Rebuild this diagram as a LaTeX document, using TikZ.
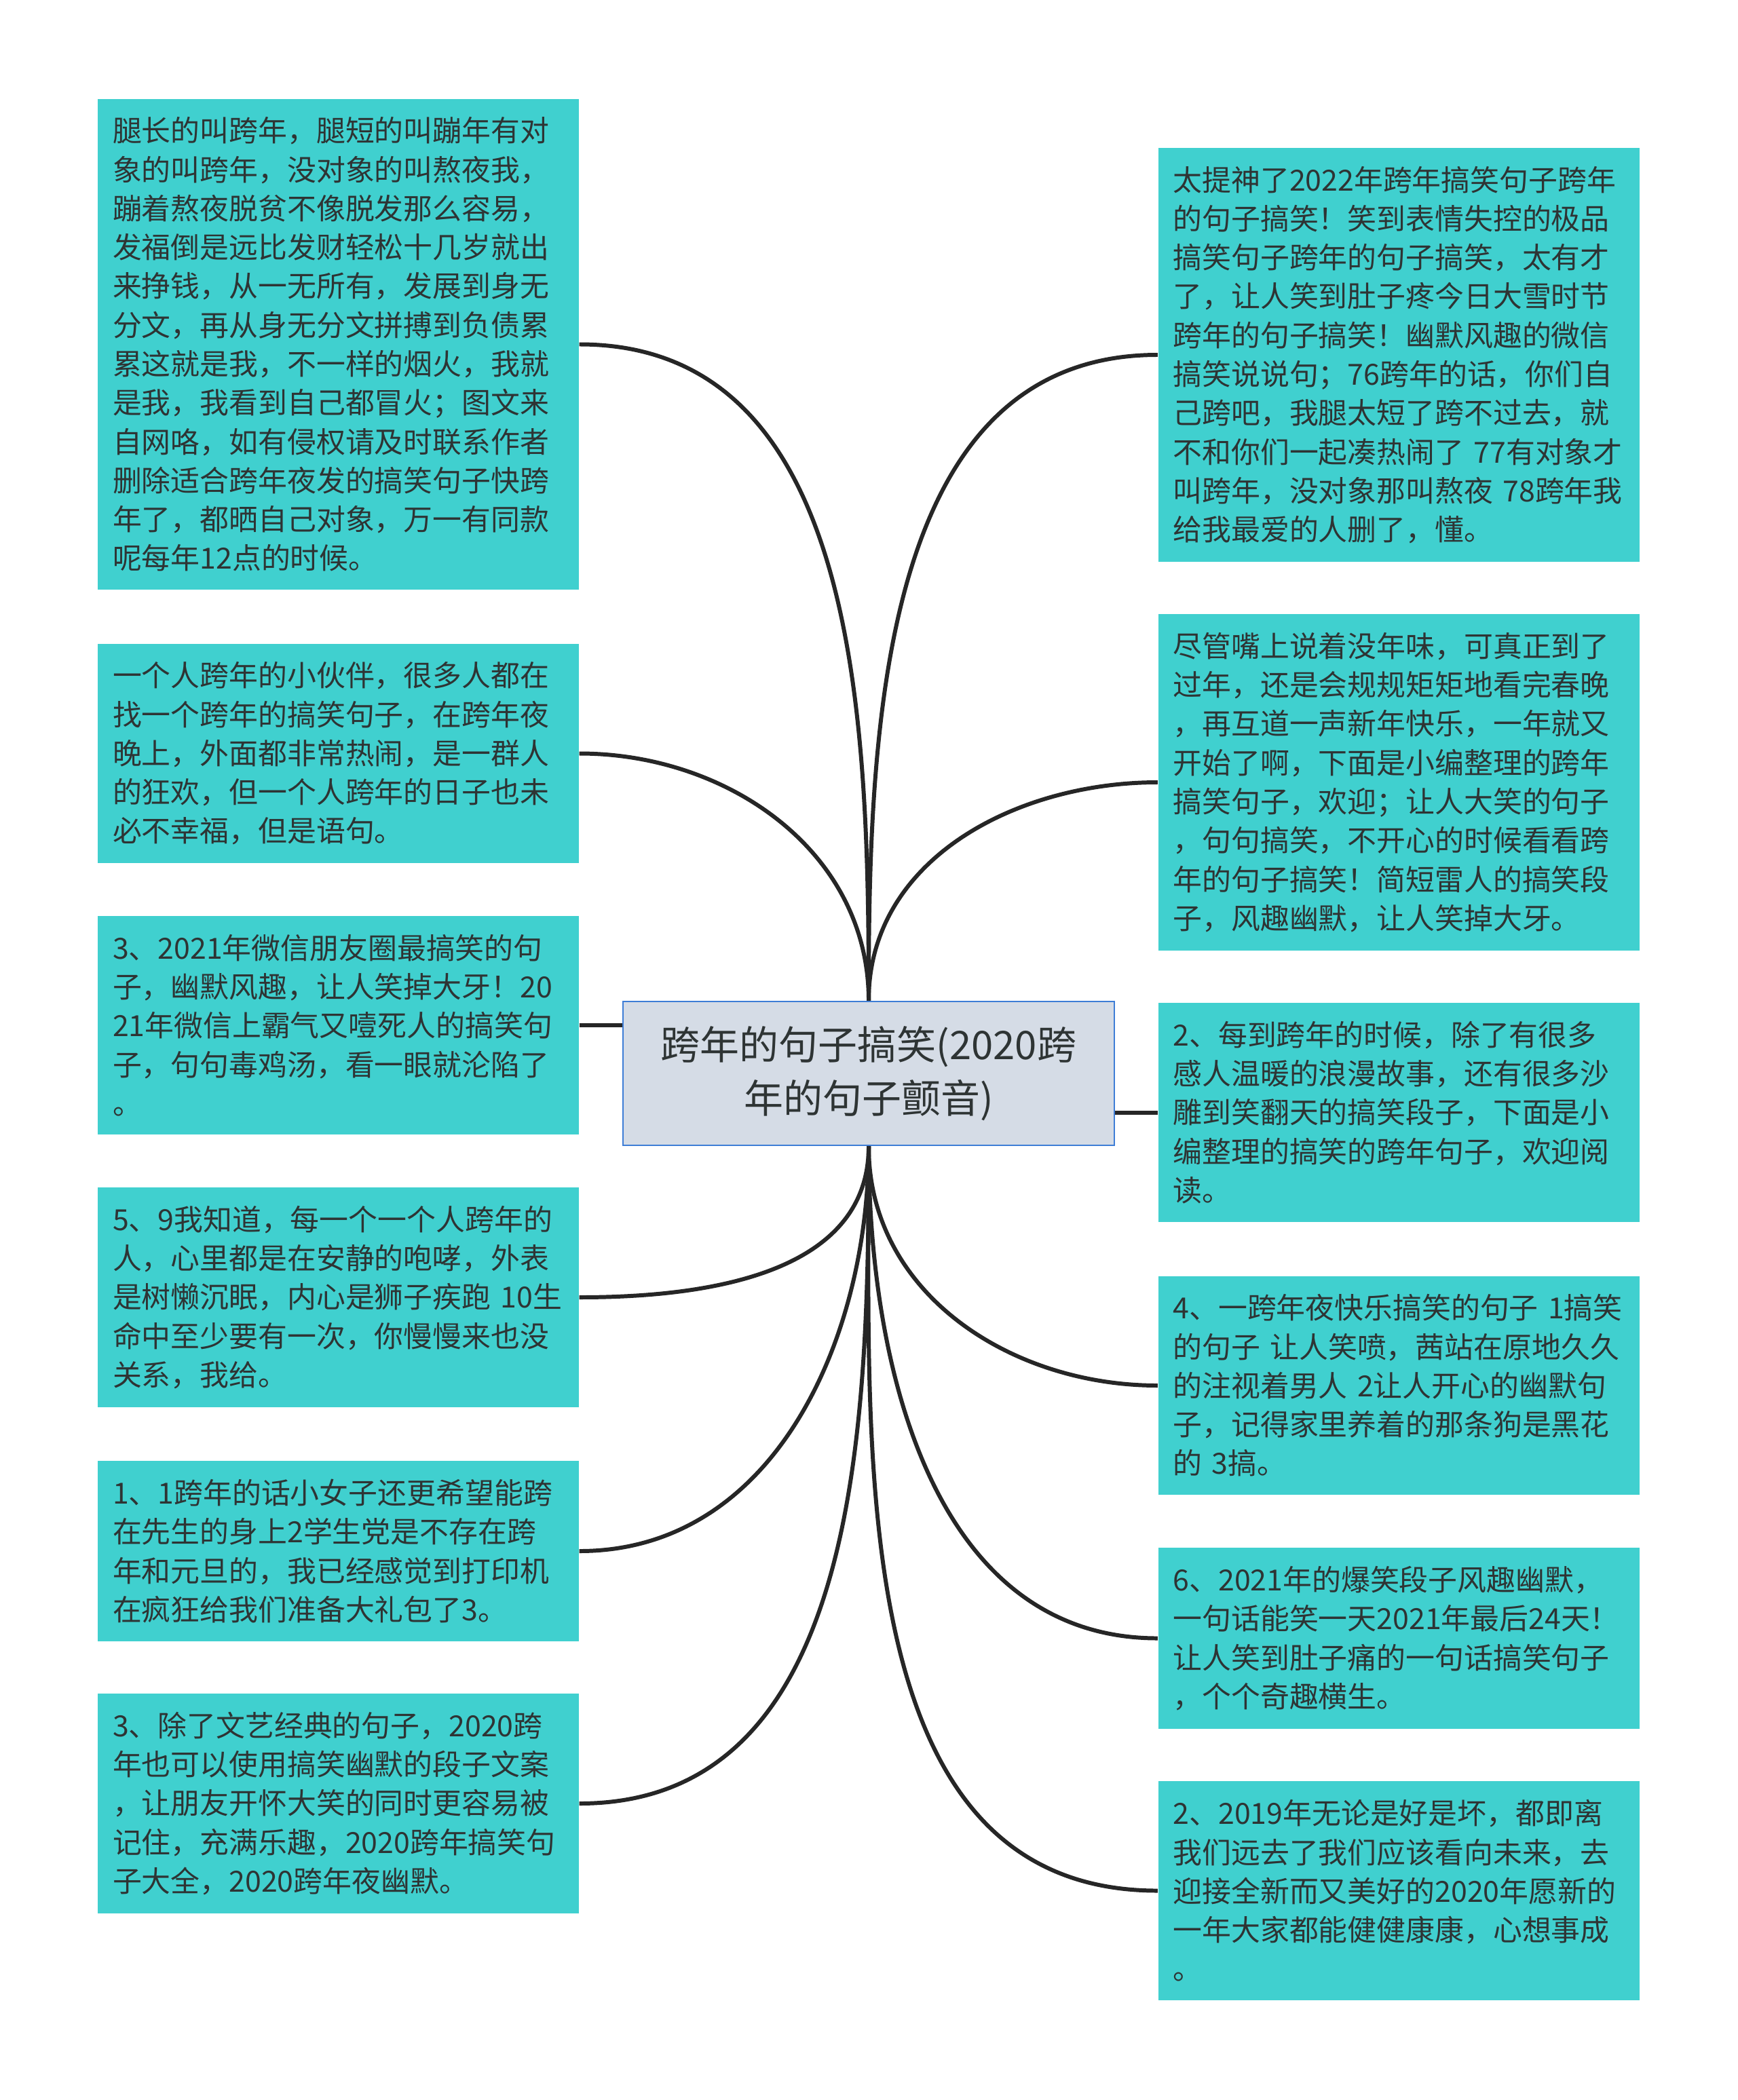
\documentclass[tikz,border=0pt]{standalone}
\usepackage{fontspec}
\setmainfont{Noto Sans CJK SC}
\usetikzlibrary{calc}
\definecolor{leaf}{HTML}{40D0CF}
\definecolor{rootfill}{HTML}{D5DCE6}
\definecolor{rootline}{HTML}{3E7DD6}
\definecolor{ink}{HTML}{2E3434}
\definecolor{wire}{HTML}{262626}
\tikzset{
  leafbox/.style={fill=leaf,text=ink,align=left,text width=6.65cm,
                  inner xsep=0.22cm,inner ysep=0.27cm,
                  font=\fontsize{12.2pt}{16.3pt}\selectfont},   % 叶子：青绿底
  rootbox/.style={fill=rootfill,draw=rootline,line width=0.8pt,text=ink,
                  align=center,minimum width=7.24cm,minimum height=2.12cm,
                  font=\fontsize{16.5pt}{22.4pt}\selectfont},  % 中心主题
  link/.style={draw=wire,line width=1.7pt}
}

\begin{document}
\begin{tikzpicture}
  \fill[white] (0,0) rectangle (25.6,-30.95);
  \useasboundingbox (0,0) rectangle (25.6,-30.95);

  \node[rootbox] (root) at (12.8,-15.82) {跨年的句子搞笑(2020跨\\年的句子颤音)};

  % 左侧六条
  \node[leafbox] (la) at (4.985,-5.075) {腿长的叫跨年，腿短的叫蹦年有对\\象的叫跨年，没对象的叫熬夜我，\\蹦着熬夜脱贫不像脱发那么容易，\\发福倒是远比发财轻松十几岁就出\\来挣钱，从一无所有，发展到身无\\分文，再从身无分文拼搏到负债累\\累这就是我，不一样的烟火，我就\\是我，我看到自己都冒火；图文来\\自网咯，如有侵权请及时联系作者\\删除适合跨年夜发的搞笑句子快跨\\年了，都晒自己对象，万一有同款\\呢每年12点的时候。};
  \node[leafbox] (lb) at (4.985,-11.105) {一个人跨年的小伙伴，很多人都在\\找一个跨年的搞笑句子，在跨年夜\\晚上，外面都非常热闹，是一群人\\的狂欢，但一个人跨年的日子也未\\必不幸福，但是语句。};
  \node[leafbox] (lc) at (4.985,-15.11) {3、2021年微信朋友圈最搞笑的句\\子，幽默风趣，让人笑掉大牙！20\\21年微信上霸气又噎死人的搞笑句\\子，句句毒鸡汤，看一眼就沦陷了\\。};
  \node[leafbox] (ld) at (4.985,-19.12) {5、9我知道，每一个一个人跨年的\\人，心里都是在安静的咆哮，外表\\是树懒沉眠，内心是狮子疾跑~10生\\命中至少要有一次，你慢慢来也没\\关系，我给。};
  \node[leafbox] (le) at (4.985,-22.86) {1、1跨年的话小女子还更希望能跨\\在先生的身上2学生党是不存在跨\\年和元旦的，我已经感觉到打印机\\在疯狂给我们准备大礼包了3。};
  \node[leafbox] (lf) at (4.985,-26.58) {3、除了文艺经典的句子，2020跨\\年也可以使用搞笑幽默的段子文案\\，让朋友开怀大笑的同时更容易被\\记住，充满乐趣，2020跨年搞笑句\\子大全，2020跨年夜幽默。};

  % 右侧六条
  \node[leafbox] (ra) at (20.61,-5.23) {太提神了2022年跨年搞笑句子跨年\\的句子搞笑！笑到表情失控的极品\\搞笑句子跨年的句子搞笑，太有才\\了，让人笑到肚子疼今日大雪时节\\跨年的句子搞笑！幽默风趣的微信\\搞笑说说句；76跨年的话，你们自\\己跨吧，我腿太短了跨不过去，就\\不和你们一起凑热闹了~77有对象才\\叫跨年，没对象那叫熬夜~78跨年我\\给我最爱的人删了，懂。};
  \node[leafbox] (rb) at (20.61,-11.53) {尽管嘴上说着没年味，可真正到了\\过年，还是会规规矩矩地看完春晚\\，再互道一声新年快乐，一年就又\\开始了啊，下面是小编整理的跨年\\搞笑句子，欢迎；让人大笑的句子\\，句句搞笑，不开心的时候看看跨\\年的句子搞笑！简短雷人的搞笑段\\子，风趣幽默，让人笑掉大牙。};
  \node[leafbox] (rc) at (20.61,-16.395) {2、每到跨年的时候，除了有很多\\感人温暖的浪漫故事，还有很多沙\\雕到笑翻天的搞笑段子，下面是小\\编整理的搞笑的跨年句子，欢迎阅\\读。};
  \node[leafbox] (rd) at (20.61,-20.42) {4、一跨年夜快乐搞笑的句子~1搞笑\\的句子~让人笑喷，茜站在原地久久\\的注视着男人~2让人开心的幽默句\\子，记得家里养着的那条狗是黑花\\的~3搞。};
  \node[leafbox] (re) at (20.61,-24.145) {6、2021年的爆笑段子风趣幽默，\\一句话能笑一天2021年最后24天！\\让人笑到肚子痛的一句话搞笑句子\\，个个奇趣横生。};
  \node[leafbox] (rf) at (20.61,-27.865) {2、2019年无论是好是坏，都即离\\我们远去了我们应该看向未来，去\\迎接全新而又美好的2020年愿新的\\一年大家都能健健康康，心想事成\\。};

  % 连线
  \draw[link] (root.north) to[out=90,in=0] (la.east);
  \draw[link] (root.north) to[out=90,in=0] (lb.east);
  \draw[link] (lc.east) -- (lc.east -| root.west);
  \draw[link] (root.south) to[out=-90,in=0] (ld.east);
  \draw[link] (root.south) to[out=-90,in=0] (le.east);
  \draw[link] (root.south) to[out=-90,in=0] (lf.east);
  \draw[link] (root.north) to[out=90,in=180] (ra.west);
  \draw[link] (root.north) to[out=90,in=180] (rb.west);
  \draw[link] (rc.west) -- (rc.west -| root.east);
  \draw[link] (root.south) to[out=-90,in=180] (rd.west);
  \draw[link] (root.south) to[out=-90,in=180] (re.west);
  \draw[link] (root.south) to[out=-90,in=180] (rf.west);
\end{tikzpicture}
\end{document}
